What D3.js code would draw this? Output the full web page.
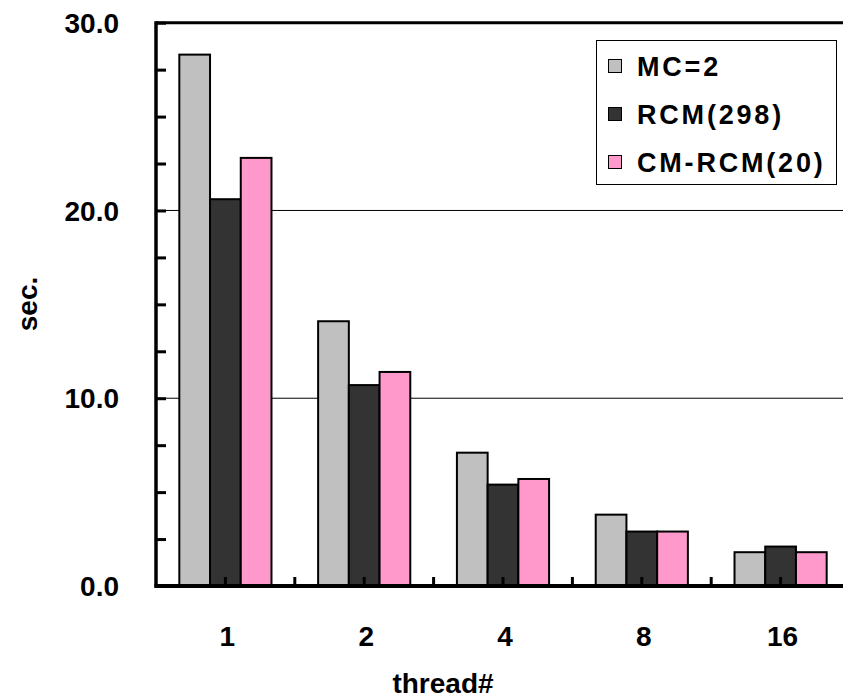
<!DOCTYPE html>
<html><head><meta charset="utf-8">
<script src="https://cdn.jsdelivr.net/npm/d3@7"></script>
<style>body{margin:0;background:#fff}svg{display:block}text{font-family:"Liberation Sans",Arial,sans-serif;font-weight:bold;fill:#000}</style>
</head><body><svg id="c" width="843" height="699"></svg>
<script>
const categories = ["1","2","4","8","16"];
const seriesNames = ["MC=2","RCM(298)","CM-RCM(20)"];
const mc2 = [28.3, 14.1, 7.1, 3.8, 1.8];
const rcm298 = [20.6, 10.7, 5.4, 2.9, 2.1];
const cmrcm20 = [22.8, 11.4, 5.7, 2.9, 1.8];
const colors = ["#c0c0c0","#333333","#ff99cc"];
const yTicks = [0,10,20,30];

(function(){
const svg = d3.select("#c");
const pL = 156, pR = 850, pT = 22.7, pB = 586;
const x = d3.scaleBand().domain(categories).range([pL, pR]).padding(0);
const bw = x.bandwidth();
const xs = d3.scaleBand().domain(seriesNames).range([bw*0.168, bw*0.832]).padding(0);
const y = d3.scaleLinear().domain([0,30]).range([pB, pT]);
const series = [mc2, rcm298, cmrcm20];

// gridlines
svg.append("g").selectAll("line").data([10,20]).join("line")
  .attr("x1", pL).attr("x2", 843).attr("y1", d=>y(d)).attr("y2", d=>y(d))
  .attr("stroke","#000").attr("stroke-width",1);

// bars
series.forEach((vals, si) => {
  svg.append("g").selectAll("rect").data(vals).join("rect")
    .attr("x", (d,i)=>x(categories[i]) + xs(seriesNames[si]))
    .attr("width", xs.bandwidth())
    .attr("y", d=>y(d))
    .attr("height", d=>y(0)-y(d))
    .attr("fill", colors[si]).attr("stroke","#000").attr("stroke-width",2);
});

// y axis
const yAxis = d3.axisLeft(y).tickValues(d3.range(0,30.01,2.5)).tickSize(-10).tickFormat("");
const gy = svg.append("g").attr("transform",`translate(${pL},0)`).call(yAxis);
gy.selectAll(".tick line").attr("stroke","#000").attr("stroke-width",3);
gy.select(".domain").remove();
svg.append("line").attr("x1",pL).attr("x2",pL).attr("y1",pT-1.5).attr("y2",pB+1.5).attr("stroke","#000").attr("stroke-width",3.5);
svg.append("line").attr("x1",pL).attr("x2",843).attr("y1",pT).attr("y2",pT).attr("stroke","#000").attr("stroke-width",3);

svg.append("g").selectAll("text").data(yTicks).join("text")
  .attr("x",119).attr("y",d=>y(d)).attr("dy","0.36em").attr("text-anchor","end")
  .style("font-size","28px").text(d=>d.toFixed(1));

// x axis
const xTickPos = [];
categories.forEach((c,i)=>{ xTickPos.push(x(c)+bw/2); if(i>0) xTickPos.push(x(c)); });
svg.append("g").selectAll("line").data(xTickPos).join("line")
  .attr("x1",d=>d).attr("x2",d=>d).attr("y1",pB).attr("y2",pB-9)
  .attr("stroke","#000").attr("stroke-width",3);
svg.append("line").attr("x1",pL-1.5).attr("x2",843).attr("y1",pB).attr("y2",pB).attr("stroke","#000").attr("stroke-width",4);

svg.append("g").selectAll("text").data(categories).join("text")
  .attr("x",d=>x(d)+bw/2+2).attr("y",636).attr("dy","0.36em").attr("text-anchor","middle")
  .style("font-size","28px").text(d=>d);

svg.append("text").attr("transform","translate(27,304) rotate(-90)").attr("text-anchor","middle").attr("dy","0.36em")
  .style("font-size","28px").text("sec.");
svg.append("text").attr("x",443).attr("y",683).attr("dy","0.36em").attr("text-anchor","middle")
  .style("font-size","28px").text("thread#");

// legend
const lg = svg.append("g");
lg.append("rect").attr("x",596.5).attr("y",40.5).attr("width",240).attr("height",144).attr("fill","#fff").attr("stroke","#000").attr("stroke-width",1);
const rowY = [66, 114, 162];
seriesNames.forEach((n,i)=>{
  lg.append("rect").attr("x",608.5).attr("y",rowY[i]-6.5).attr("width",13).attr("height",13).attr("fill",colors[i]).attr("stroke","#000").attr("stroke-width",1);
  lg.append("text").attr("x",637).attr("y",rowY[i]).attr("dy","0.36em").style("font-size","27px").style("letter-spacing","2.8px").text(n);
});
})();
</script></body></html>
